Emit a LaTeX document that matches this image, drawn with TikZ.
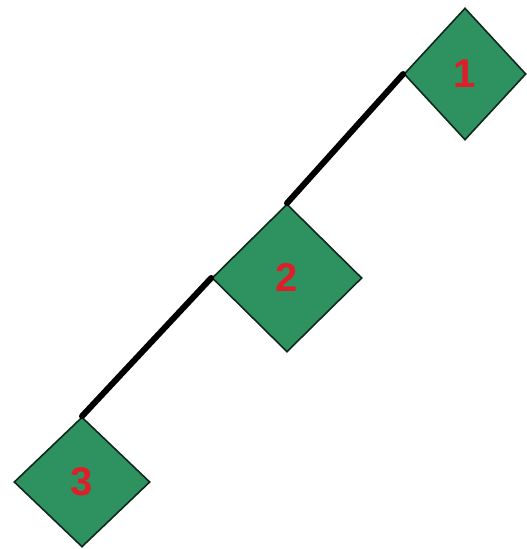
\documentclass[tikz,border=0pt]{standalone}
\usepackage{fontspec}
\setmainfont{Liberation Sans}
\usetikzlibrary{shapes.geometric}
\definecolor{boxgreen}{RGB}{46,146,96}
\definecolor{boxedge}{RGB}{15,40,28}
\definecolor{numred}{RGB}{222,30,40}
\tikzset{
  dia/.style={diamond, draw=boxedge, line width=1.6pt, fill=boxgreen, inner sep=0pt,
    text=numred, font=\fontsize{40}{40}\selectfont\bfseries},
  link/.style={line width=6pt, black, line cap=round}
}
\begin{document}
\begin{tikzpicture}[x=1pt,y=-1pt]
\useasboundingbox (0,0) rectangle (527,549);
\node[dia, minimum width=122pt, minimum height=132pt] (n1) at (465,74) {1};
\node[dia, minimum width=150pt, minimum height=148pt] (n2) at (287,278) {2};
\node[dia, minimum width=136pt, minimum height=130pt] (n3) at (82,482) {3};
\draw[link] (n1.west) -- (n2.north);
\draw[link] (n2.west) -- (n3.north);
\end{tikzpicture}
\end{document}
